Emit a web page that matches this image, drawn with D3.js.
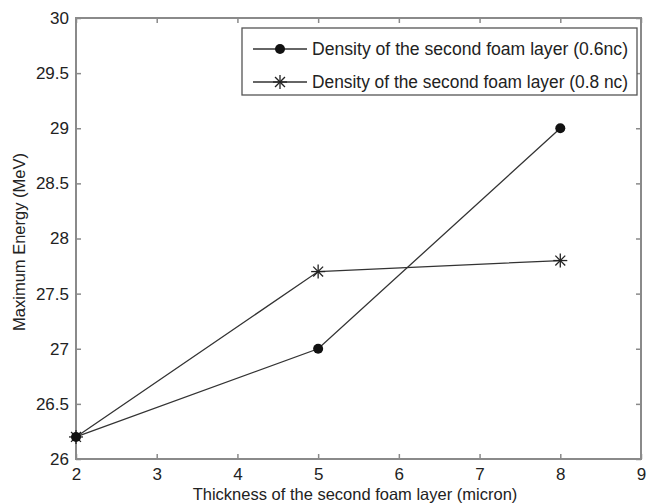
<!DOCTYPE html>
<html>
<head>
<meta charset="utf-8">
<script src="https://cdn.jsdelivr.net/npm/d3@7"></script>
<style>
  body { margin: 0; background: #fff; }
  svg { font-family: "Liberation Sans", Arial, sans-serif; }
</style>
</head>
<body>
<div id="chart"></div>
<script>
const thickness = [2, 5, 8];
const energy06 = [26.2, 27.0, 29.0];
const energy08 = [26.2, 27.7, 27.8];
const xTicks = [2, 3, 4, 5, 6, 7, 8, 9];
const yTicks = [26, 26.5, 27, 27.5, 28, 28.5, 29, 29.5, 30];
const seriesNames = ['Density of the second foam layer (0.6nc)', 'Density of the second foam layer (0.8 nc)'];

const width = 650;
const height = 504;
const margin = {top: 18, right: 9, bottom: 45, left: 76};
const axisColor = '#8a8a8a';
const ink = '#222';

const svg = d3.select('#chart').append('svg')
    .attr('width', width)
    .attr('height', height);

const x = d3.scaleLinear().domain([2, 9]).range([margin.left, width - margin.right]);
const y = d3.scaleLinear().domain([26, 30]).range([height - margin.bottom, margin.top]);

// ticks pointing inward on all four sides
function tickAxis(axis, pos) {
    const g = svg.append('g').attr('transform', pos).call(axis);
    g.select('.domain').remove();
    g.selectAll('.tick line').attr('stroke', axisColor).attr('stroke-width', 1.5);
    return g;
}

tickAxis(d3.axisBottom(x).tickValues(xTicks).tickSize(-5).tickPadding(9).tickFormat(d3.format('d')), `translate(0,${y(26)})`)
    .selectAll('text').attr('fill', ink).style('font-size', '17px');
tickAxis(d3.axisLeft(y).tickValues(yTicks).tickSize(-5).tickPadding(7).tickFormat(d3.format('')), `translate(${x(2)},0)`)
    .selectAll('text').attr('fill', ink).style('font-size', '17px');
tickAxis(d3.axisTop(x).tickValues(xTicks).tickSize(-5).tickFormat(''), `translate(0,${y(30)})`);
tickAxis(d3.axisRight(y).tickValues(yTicks).tickSize(-5).tickFormat(''), `translate(${x(9)},0)`);

svg.append('rect')
    .attr('x', x(2)).attr('y', y(30))
    .attr('width', x(9) - x(2)).attr('height', y(26) - y(30))
    .attr('fill', 'none').attr('stroke', axisColor).attr('stroke-width', 2);

const line = d3.line().x(d => x(d[0])).y(d => y(d[1]));
const pts06 = thickness.map((t, i) => [t, energy06[i]]);
const pts08 = thickness.map((t, i) => [t, energy08[i]]);

svg.append('path').datum(pts06).attr('d', line)
    .attr('fill', 'none').attr('stroke', '#333').attr('stroke-width', 1.3);
svg.append('path').datum(pts08).attr('d', line)
    .attr('fill', 'none').attr('stroke', '#333').attr('stroke-width', 1.3);

function star(g, cx, cy, r) {
    [0, 45, 90, 135].forEach(a => {
        const rad = a * Math.PI / 180;
        g.append('line')
            .attr('x1', cx - r * Math.cos(rad)).attr('y1', cy - r * Math.sin(rad))
            .attr('x2', cx + r * Math.cos(rad)).attr('y2', cy + r * Math.sin(rad))
            .attr('stroke', '#222').attr('stroke-width', 1.3);
    });
}

const marks = svg.append('g');
pts08.forEach(d => star(marks, x(d[0]), y(d[1]), 7));
marks.selectAll('circle').data(pts06).join('circle')
    .attr('cx', d => x(d[0])).attr('cy', d => y(d[1]))
    .attr('r', 5).attr('fill', '#111');

// legend
const leg = svg.append('g');
leg.append('rect')
    .attr('x', 242).attr('y', 28).attr('width', 395).attr('height', 67)
    .attr('fill', '#fff').attr('stroke', '#555').attr('stroke-width', 1.3);
seriesNames.forEach((name, i) => {
    const ly = 49 + i * 33;
    leg.append('line').attr('x1', 253).attr('x2', 307).attr('y1', ly).attr('y2', ly)
        .attr('stroke', '#333').attr('stroke-width', 1.3);
    if (i === 0) {
        leg.append('circle').attr('cx', 280).attr('cy', ly).attr('r', 5).attr('fill', '#111');
    } else {
        star(leg, 280, ly, 7);
    }
    leg.append('text').attr('x', 312).attr('y', ly + 6)
        .attr('fill', ink).style('font-size', '17.5px')
        .attr('textLength', 316).attr('lengthAdjust', 'spacingAndGlyphs')
        .text(name);
});

svg.append('text')
    .attr('x', 355).attr('y', 500)
    .attr('text-anchor', 'middle').attr('fill', ink).style('font-size', '16.5px')
    .text('Thickness of the second foam layer (micron)');

svg.append('text')
    .attr('transform', `translate(25,242) rotate(-90)`)
    .attr('text-anchor', 'middle').attr('fill', ink).style('font-size', '16.5px')
    .text('Maximum Energy (MeV)');
</script>
</body>
</html>
